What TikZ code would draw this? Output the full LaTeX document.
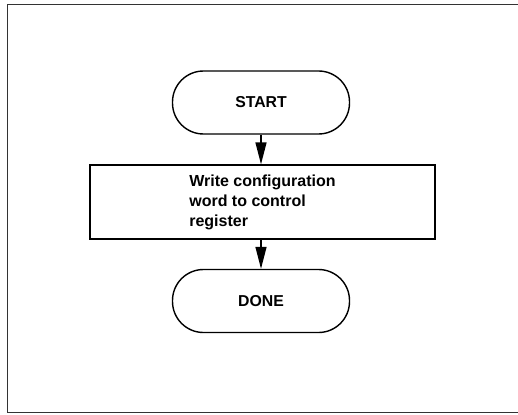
\documentclass[tikz,border=0pt]{standalone}
\usepackage{fontspec}
\setmainfont{Liberation Sans}
\usetikzlibrary{arrows.meta}
\begin{document}
\begin{tikzpicture}[x=1pt,y=-1pt,
  term/.style={draw,line width=1.4pt,rounded corners=31pt,minimum width=177pt,minimum height=63pt,inner sep=0pt,font=\fontsize{15.8}{20}\selectfont\bfseries},
  procbox/.style={draw,line width=1.4pt,minimum width=345pt,minimum height=74pt,inner sep=0pt,align=left,font=\fontsize{16}{20}\selectfont\bfseries},
  flow/.style={line width=1.4pt,-{Triangle[length=22pt,width=11pt]}},
  frame/.style={line width=0.8pt,black!80}]
\useasboundingbox (0,0) rectangle (518,414);
\draw[frame] (518,4) -- (7,4) -- (7,412) -- (518,412);
\node[term] (start) at (261,102.5) {START};
\node[procbox] (write) at (262.5,202) {Write configuration\\word to control\\register};
\node[term] (done) at (261,301) {DONE};
\draw[flow] (start.south) -- (start.south |- write.north);
\draw[flow] (write.south -| done.north) -- (done.north);
\end{tikzpicture}
\end{document}
